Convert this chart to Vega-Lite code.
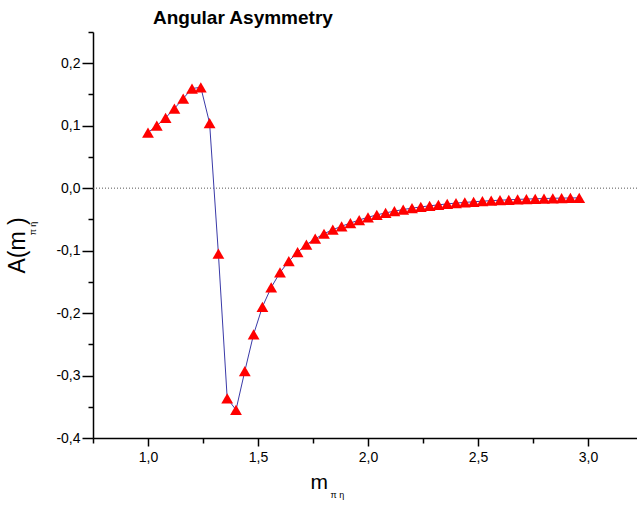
{
  "$schema": "https://vega.github.io/schema/vega-lite/v6.json",
  "width": 544,
  "height": 406,
  "autosize": {"type": "none"},
  "padding": {"left": 93, "top": 32, "right": 0, "bottom": 68},
  "background": "white",
  "title": {"text": "Angular Asymmetry", "anchor": "start", "frame": "group", "dx": 60, "fontSize": 19, "fontWeight": "bold", "font": "Liberation Sans", "color": "black", "offset": 3},
  "config": {
    "view": {"stroke": null},
    "axis": {"grid": false, "domainColor": "black", "tickColor": "black", "labelColor": "black", "titleColor": "black", "labelFont": "Liberation Sans", "titleFont": "Liberation Sans", "domainWidth": 1.5, "tickWidth": 1.5, "titleFontWeight": "normal"}
  },
  "data": {"values": [
    {"m": 1.00, "A": 0.089}, {"m": 1.04, "A": 0.100}, {"m": 1.08, "A": 0.1125}, {"m": 1.12, "A": 0.1275},
    {"m": 1.16, "A": 0.1435}, {"m": 1.20, "A": 0.1595}, {"m": 1.24, "A": 0.1615}, {"m": 1.28, "A": 0.104},
    {"m": 1.32, "A": -0.105}, {"m": 1.36, "A": -0.3365}, {"m": 1.40, "A": -0.355}, {"m": 1.44, "A": -0.293},
    {"m": 1.48, "A": -0.234}, {"m": 1.52, "A": -0.190}, {"m": 1.56, "A": -0.159}, {"m": 1.60, "A": -0.135},
    {"m": 1.64, "A": -0.117}, {"m": 1.68, "A": -0.1025}, {"m": 1.72, "A": -0.0905}, {"m": 1.76, "A": -0.081},
    {"m": 1.80, "A": -0.073}, {"m": 1.84, "A": -0.0665}, {"m": 1.88, "A": -0.061}, {"m": 1.92, "A": -0.0558},
    {"m": 1.96, "A": -0.0510}, {"m": 2.00, "A": -0.0466}, {"m": 2.04, "A": -0.0428}, {"m": 2.08, "A": -0.0396},
    {"m": 2.12, "A": -0.0368}, {"m": 2.16, "A": -0.0342}, {"m": 2.20, "A": -0.0320}, {"m": 2.24, "A": -0.0300},
    {"m": 2.28, "A": -0.0283}, {"m": 2.32, "A": -0.0267}, {"m": 2.36, "A": -0.0252}, {"m": 2.40, "A": -0.0239},
    {"m": 2.44, "A": -0.0228}, {"m": 2.48, "A": -0.0218}, {"m": 2.52, "A": -0.0209}, {"m": 2.56, "A": -0.0200},
    {"m": 2.60, "A": -0.0193}, {"m": 2.64, "A": -0.0186}, {"m": 2.68, "A": -0.0180}, {"m": 2.72, "A": -0.0175},
    {"m": 2.76, "A": -0.0170}, {"m": 2.80, "A": -0.0166}, {"m": 2.84, "A": -0.0162}, {"m": 2.88, "A": -0.0159},
    {"m": 2.92, "A": -0.0157}, {"m": 2.96, "A": -0.0155}
  ]},
  "resolve": {"axis": {"x": "independent", "y": "independent"}},
  "layer": [
    {
      "data": {"values": [{"A": 0}]},
      "mark": {"type": "rule", "color": "#555555", "strokeDash": [1, 2], "strokeWidth": 1},
      "encoding": {
        "y": {"field": "A", "type": "quantitative", "scale": {"domain": [-0.4, 0.25], "nice": false, "zero": false}, "axis": null}
      }
    },
    {
      "mark": {"type": "line", "color": "#3a3aa8", "strokeWidth": 1},
      "encoding": {
        "x": {"field": "m", "type": "quantitative", "sort": null,
          "scale": {"domain": [0.75, 3.2227], "nice": false, "zero": false},
          "axis": {"orient": "bottom", "values": [1, 1.5, 2, 2.5, 3], "tickSize": 8, "labelPadding": 4, "labelFontSize": 14,
            "labelExpr": "replace(replace(format(datum.value, '.1f'), '.', ','), '−', '-')",
            "title": "m", "titleFontSize": 21, "titleAlign": "left", "titleBaseline": "alphabetic", "titleX": 217, "titleY": 50}},
        "y": {"field": "A", "type": "quantitative",
          "scale": {"domain": [-0.4, 0.25], "nice": false, "zero": false},
          "axis": {"orient": "left", "values": [-0.4, -0.3, -0.2, -0.1, 0, 0.1, 0.2], "tickSize": 11, "labelPadding": 2, "labelFontSize": 14,
            "labelExpr": "replace(replace(format(datum.value, '.1f'), '.', ','), '−', '-')",
            "title": "A(m   )", "titleFontSize": 23, "titleAngle": 270, "titleAlign": "center", "titleBaseline": "alphabetic", "titleX": -69, "titleY": 213}}
      }
    },
    {
      "mark": {"type": "point", "shape": "triangle-up", "filled": true, "color": "#ff0000", "size": 140, "opacity": 1},
      "encoding": {
        "x": {"field": "m", "type": "quantitative",
          "scale": {"domain": [0.75, 3.2227], "nice": false, "zero": false},
          "axis": {"orient": "bottom", "values": [0.75, 1.25, 1.75, 2.25, 2.75], "tickSize": 5, "labels": false, "domain": false,
            "title": "π η", "titleFontSize": 9, "titleAlign": "left", "titleBaseline": "alphabetic", "titleX": 237, "titleY": 59}},
        "y": {"field": "A", "type": "quantitative",
          "scale": {"domain": [-0.4, 0.25], "nice": false, "zero": false},
          "axis": {"orient": "left", "values": [-0.35, -0.25, -0.15, -0.05, 0.05, 0.15, 0.25], "tickSize": 5, "labels": false, "domain": false,
            "title": "π η", "titleFontSize": 9, "titleAngle": 270, "titleAlign": "center", "titleBaseline": "alphabetic", "titleX": -58, "titleY": 196}}
      }
    }
  ]
}
